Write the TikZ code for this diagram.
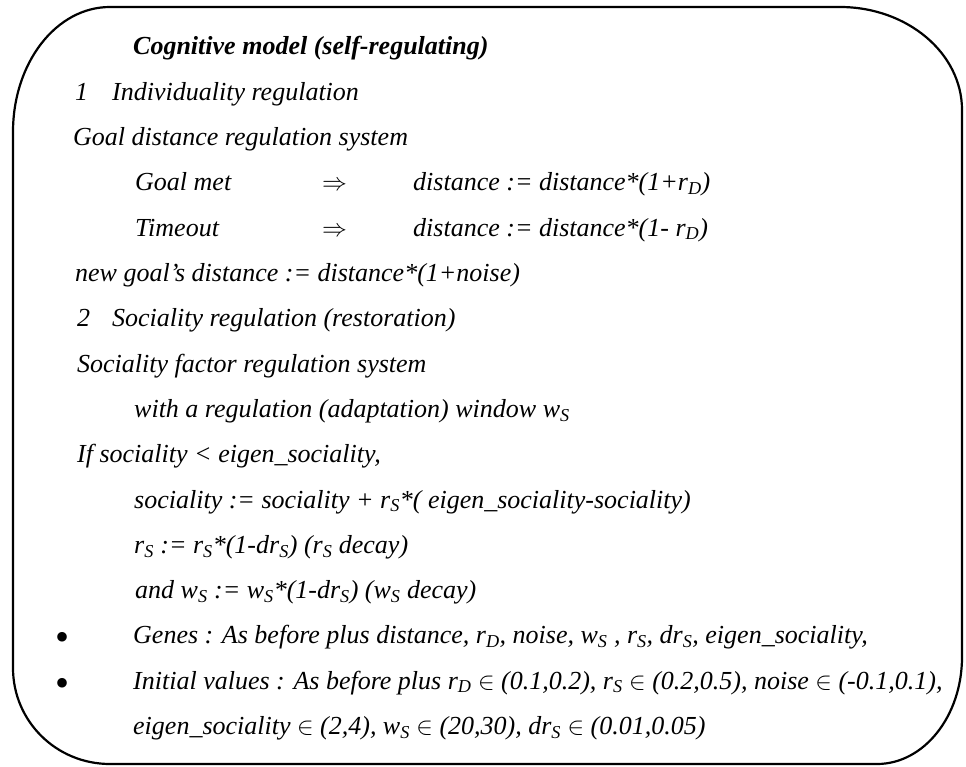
\documentclass[tikz,border=0pt]{standalone}
\usepackage{fontspec}
\setmainfont{Liberation Serif}
\newcommand{\sbs}[1]{\textsubscript{#1}}
\newcommand{\us}{\_}
\begin{document}
\begin{tikzpicture}[x=1pt,y=-1pt,
  txt/.style={anchor=base west,inner sep=0pt,font=\fontsize{26}{30}\selectfont\itshape},
  ttl/.style={anchor=base west,inner sep=0pt,font=\fontsize{26}{30}\selectfont\bfseries\itshape},
  bul/.style={anchor=base,inner sep=0pt,font=\fontsize{40}{40}\selectfont},
  boxline/.style={draw=black,line width=2.2pt,line join=round}]
\useasboundingbox (0,0) rectangle (966,767);
% frame
\draw[boxline] (110,7) -- (840,7)
  .. controls (907,7) and (962,53) .. (962,110)
  -- (962,657)
  .. controls (962,716) and (924,764) .. (877,764)
  -- (110,764)
  .. controls (56,764) and (13,721) .. (13,668)
  -- (13,132)
  .. controls (13,63) and (56,7) .. (110,7) -- cycle;
% text lines (baseline = 55 + 45.3 i)
\node[ttl] (t0) at (133,55) {Cognitive model (self-regulating)};
\node[txt] (t1a) at (75,100.3) {1};
\node[txt] (t1b) at (112,100.3) {Individuality regulation};
\node[txt] (t2) at (73,145.6) {Goal distance regulation system};
\node[txt] (t3a) at (135,190.9) {Goal met};
\node[txt] (t3b) at (322,190.9) {$\Rightarrow$};
\node[txt] (t3c) at (413,190.9) {distance := distance*(1+r\sbs{D})};
\node[txt] (t4a) at (135,236.2) {Timeout};
\node[txt] (t4b) at (322,236.2) {$\Rightarrow$};
\node[txt] (t4c) at (413,236.2) {distance := distance*(1- r\sbs{D})};
\node[txt] (t5) at (75,281.5) {new goal’s distance := distance*(1+noise)};
\node[txt] (t6a) at (77,326.8) {2};
\node[txt] (t6b) at (112,326.8) {Sociality regulation (restoration)};
\node[txt] (t7) at (77,372.1) {Sociality factor regulation system};
\node[txt] (t8) at (134,417.4) {with a regulation (adaptation) window w\sbs{S}};
\node[txt] (t9) at (77,462.7) {If sociality < eigen\us sociality,};
\node[txt] (t10) at (134,508) {sociality := sociality + r\sbs{S}*( eigen\us sociality-sociality)};
\node[txt] (t11) at (134,553.3) {r\sbs{S} := r\sbs{S}*(1-dr\sbs{S}) (r\sbs{S} decay)};
\node[txt] (t12) at (135,598.6) {and w\sbs{S} := w\sbs{S}*(1-dr\sbs{S}) (w\sbs{S} decay)};
\node[bul] (b1) at (63,650) {\textbullet};
\node[txt] (t13) at (133,643.9) {Genes : As before plus distance, r\sbs{D}, noise, w\sbs{S} , r\sbs{S}, dr\sbs{S}, eigen\us sociality,};
\node[bul] (b2) at (63,696) {\textbullet};
\node[txt] (t14) at (133,689.2) {Initial values : As before plus r\sbs{D} $\in$ (0.1,0.2), r\sbs{S} $\in$ (0.2,0.5), noise $\in$ (-0.1,0.1),};
\node[txt] (t15) at (133,734.5) {eigen\us sociality $\in$ (2,4), w\sbs{S} $\in$ (20,30), dr\sbs{S} $\in$ (0.01,0.05)};
\end{tikzpicture}
\end{document}
